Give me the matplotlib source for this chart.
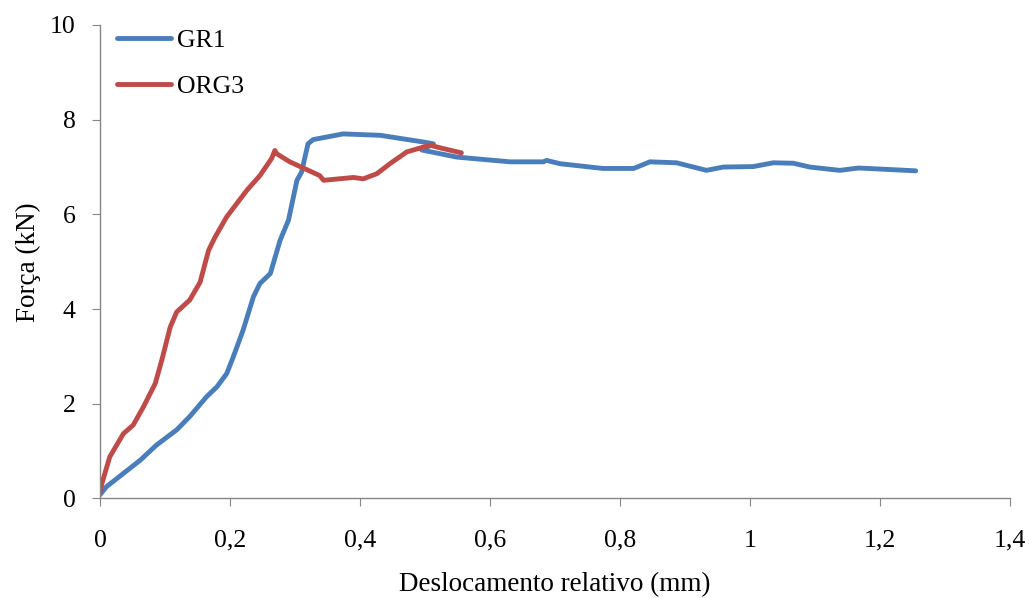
import matplotlib
matplotlib.use('Agg')
import matplotlib.pyplot as plt
from matplotlib.ticker import FuncFormatter

# GR1 (blue)
gr1_x = [0.0, 0.01, 0.036, 0.062, 0.087, 0.118, 0.138, 0.164, 0.18, 0.195, 0.205,
         0.22, 0.236, 0.246, 0.262, 0.277, 0.29, 0.303, 0.31, 0.32, 0.328, 0.374,
         0.431, 0.497, 0.513, 0.495, 0.549, 0.59, 0.631, 0.682, 0.687, 0.708,
         0.774, 0.821, 0.846, 0.887, 0.933, 0.959, 1.005, 1.036, 1.067, 1.092,
         1.138, 1.167, 1.255]
gr1_y = [0.08, 0.25, 0.53, 0.81, 1.13, 1.45, 1.73, 2.15, 2.36, 2.64, 2.99,
         3.55, 4.26, 4.54, 4.75, 5.45, 5.88, 6.72, 6.89, 7.49, 7.58, 7.70,
         7.67, 7.53, 7.49, 7.36, 7.21, 7.16, 7.11, 7.11, 7.14, 7.07,
         6.97, 6.97, 7.11, 7.09, 6.93, 7.00, 7.01, 7.09, 7.08, 7.00,
         6.93, 6.98, 6.92]

# ORG3 (red)
org3_x = [0.0, 0.003, 0.015, 0.036, 0.051, 0.067, 0.085, 0.095, 0.108, 0.118,
          0.138, 0.154, 0.167, 0.177, 0.195, 0.226, 0.246, 0.264, 0.269, 0.272,
          0.292, 0.338, 0.344, 0.39, 0.405, 0.426, 0.446, 0.472, 0.497, 0.508,
          0.528, 0.556]
org3_y = [0.15, 0.32, 0.88, 1.37, 1.55, 1.94, 2.43, 2.92, 3.62, 3.94,
          4.19, 4.57, 5.24, 5.52, 5.95, 6.51, 6.82, 7.18, 7.35, 7.28,
          7.11, 6.82, 6.72, 6.78, 6.75, 6.86, 7.07, 7.32, 7.42, 7.46,
          7.39, 7.30]

plt.rcParams['font.family'] = ['Liberation Serif', 'DejaVu Serif']

fig = plt.figure(figsize=(10.29, 5.98), dpi=100)
ax = fig.add_axes([0.0972, 0.1664, 0.8843, 0.7918])

ax.plot(gr1_x, gr1_y, color='#4a7ebb', lw=3.5, label='GR1', solid_capstyle='round')
ax.plot(org3_x, org3_y, color='#be4b48', lw=3.5, label='ORG3', solid_capstyle='round')

ax.set_xlim(0, 1.4)
ax.set_ylim(0, 10)
ax.set_xticks([0, 0.2, 0.4, 0.6, 0.8, 1.0, 1.2, 1.4])
ax.set_yticks([0, 2, 4, 6, 8, 10])
ax.xaxis.set_major_formatter(FuncFormatter(lambda v, p: ('%g' % round(v, 1)).replace('.', ',')))

for s in ['top', 'right']:
    ax.spines[s].set_visible(False)
for s in ['left', 'bottom']:
    ax.spines[s].set_color('#868686')
    ax.spines[s].set_linewidth(1.0)
ax.tick_params(direction='out', length=5.5, color='#868686', labelsize=18.5)
ax.tick_params(axis='x', pad=17)
ax.tick_params(axis='y', pad=12)

ax.set_xlabel('Deslocamento relativo (mm)', fontsize=19.5, labelpad=15)
ax.set_ylabel('Força (kN)', fontsize=19.5, labelpad=6.5)

ax.legend(loc='upper left', frameon=False, fontsize=18.5, handlelength=2.1,
          bbox_to_anchor=(0.0187, 0.991), borderaxespad=0, borderpad=0,
          labelspacing=0.9, handletextpad=0.25)

fig.savefig('out.png', dpi=100)
